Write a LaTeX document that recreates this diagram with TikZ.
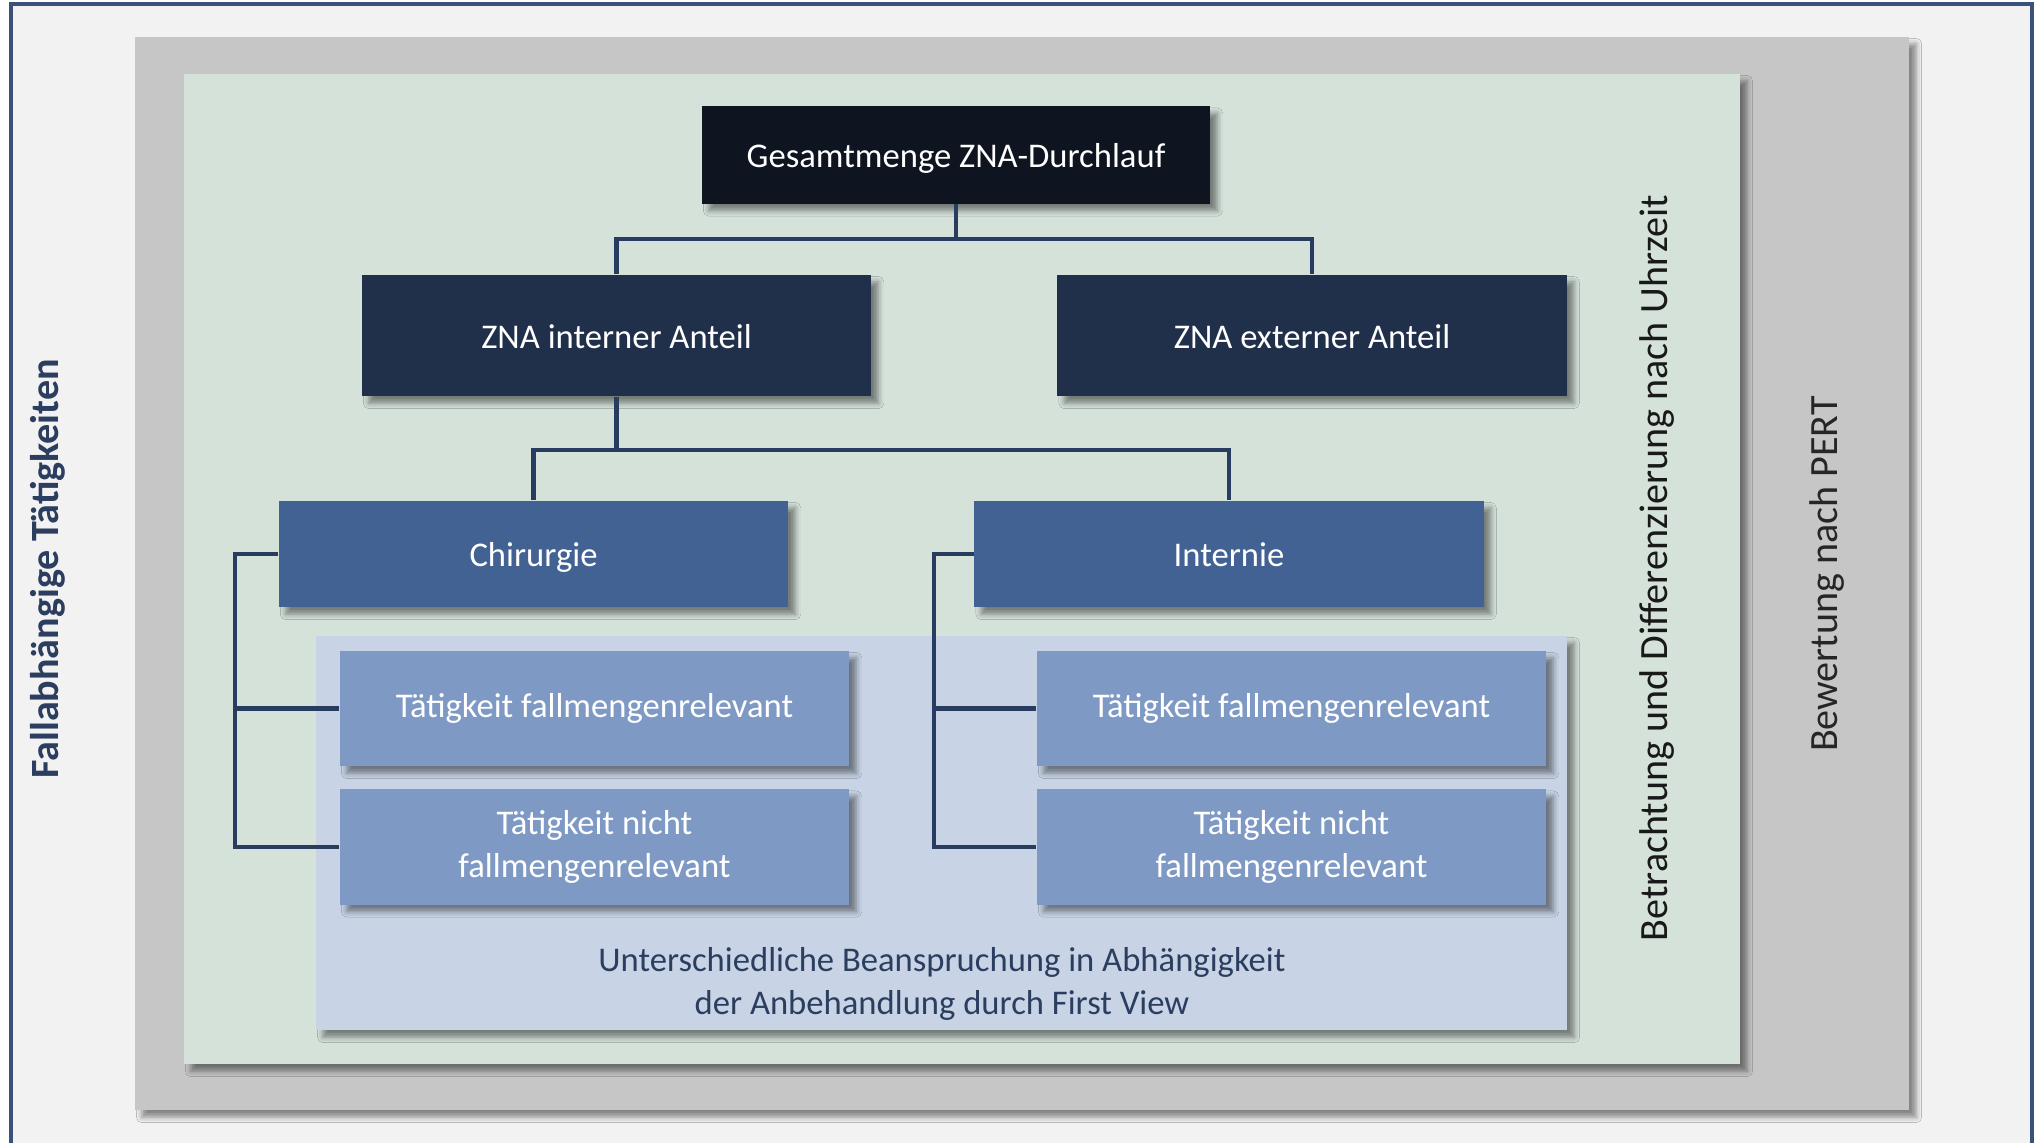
\documentclass[tikz,border=0pt]{standalone}
\usepackage{fontspec}
\setmainfont{Carlito}
\usepackage{tikz}
\usetikzlibrary{shadows.blur,positioning,calc}
\definecolor{frameBlue}{RGB}{59,82,120}
\definecolor{pageGray}{RGB}{242,242,242}
\definecolor{pertGray}{RGB}{198,198,198}
\definecolor{timeGreen}{RGB}{213,226,218}
\definecolor{viewBlue}{RGB}{200,212,230}
\definecolor{rootNavy}{RGB}{14,21,32}
\definecolor{shareNavy}{RGB}{33,48,74}
\definecolor{deptBlue}{RGB}{67,98,148}
\definecolor{taskBlue}{RGB}{127,153,197}
\definecolor{linkNavy}{RGB}{40,60,95}
\definecolor{textNavy}{RGB}{44,62,95}

\begin{document}
\begin{tikzpicture}[
        x=0.01cm, y=-0.01cm,
        softshadow/.style={blur shadow={shadow xshift=2pt, shadow yshift=-2pt,
          shadow blur radius=1.6pt, shadow opacity=45}},
        box/.style={rectangle, inner sep=0pt, text=white, align=center,
          font=\fontsize{9.85}{12}\selectfont, softshadow},
        oneline/.style={text height=0.865em, text depth=0.135em},
        rootbox/.style={box, oneline, fill=rootNavy, minimum width=5.08cm, minimum height=0.97cm},
        sharebox/.style={box, oneline, fill=shareNavy, minimum width=5.09cm, minimum height=1.21cm},
        deptbox/.style={box, oneline, fill=deptBlue, minimum width=5.09cm, minimum height=1.06cm},
        taskbox/.style={box, fill=taskBlue, minimum width=5.09cm, minimum height=1.15cm},
        sidelabel/.style={rotate=90, font=\fontsize{11.4}{13}\selectfont},
        link/.style={draw=linkNavy, line width=1.2pt}
      ]
        \useasboundingbox (0,0) rectangle (2042,1142);
        \fill[white] (0,0) rectangle (2042,1142);
        % Frame and nested panels
        \draw[frameBlue, line width=0.9pt, fill=pageGray] (11,4) rectangle (2032,1160);
        \fill[pertGray, softshadow] (135,37) rectangle (1909,1110);
        \fill[timeGreen, softshadow] (184,74) rectangle (1740,1064);
        \fill[viewBlue, softshadow] (316,636) rectangle (1567,1030);
        % Root
        \node[rootbox] (root) at (956,155) {Gesamtmenge ZNA-Durchlauf};
        % Shares
        \node[sharebox] (int) at (616.5,335.5) {ZNA interner Anteil};
        \node[sharebox] (ext) at (1312,335.5) {ZNA externer Anteil};
        % Departments
        \node[deptbox] (chir) at (533.5,554) {Chirurgie};
        \node[deptbox] (inte) at (1229,554) {Internie};
        % Activities
        \node[taskbox] (tfl1) at (594.5,708.5) {Tätigkeit fallmengenrelevant};
        \node[taskbox] (tnl1) at (594.5,847) {Tätigkeit nicht\\fallmengenrelevant};
        \node[taskbox] (tfl2) at (1291.5,708.5) {Tätigkeit fallmengenrelevant};
        \node[taskbox] (tnl2) at (1291.5,847) {Tätigkeit nicht\\fallmengenrelevant};
        % Labels
        \node[align=center, text=textNavy, font=\fontsize{9.85}{12}\selectfont] (note) at (942,984)
          {Unterschiedliche Beanspruchung in Abhängigkeit\\der Anbehandlung durch First View};
        \node[sidelabel, text=black!90] (time) at (1657,568) {Betrachtung und Differenzierung nach Uhrzeit};
        \node[sidelabel, text=black!85] (pert) at (1827,574) {Bewertung nach PERT};
        \node[sidelabel, text=textNavy, font=\fontsize{11.4}{13}\selectfont\bfseries] (case) at (48,569) {Fallabhängige Tätigkeiten};
        % Connectors
        \draw[link] (root.south) -- ++(0,35) coordinate (topbar);
        \draw[link] (int.north) |- (topbar) -| (ext.north);
        \draw[link] (int.south) -- ++(0,53) coordinate (midbar);
        \draw[link] (chir.north) |- (midbar) -| (inte.north);
        \draw[link] (chir.west) -- ++(-43,0) |- (tnl1.west);
        \draw[link] (tfl1.west) -- ++(-104,0);
        \draw[link] (inte.west) -- ++(-40,0) |- (tnl2.west);
        \draw[link] (tfl2.west) -- ++(-102,0);
      \end{tikzpicture}
\end{document}
